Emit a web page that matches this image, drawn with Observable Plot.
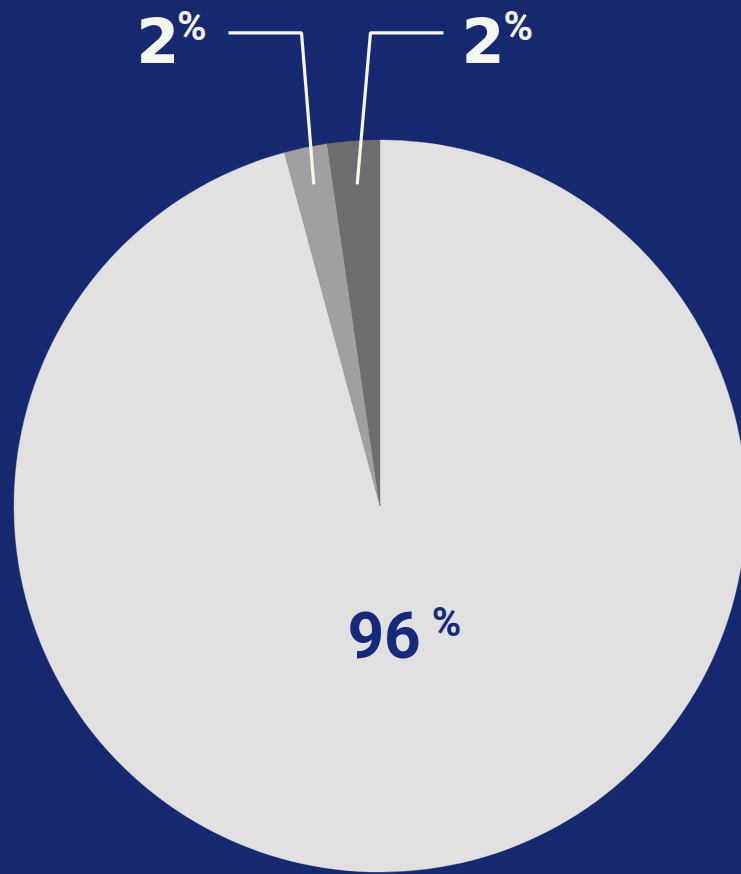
<!DOCTYPE html>
<html>
<head>
<meta charset="utf-8">
<script src="https://cdn.jsdelivr.net/npm/d3@7"></script>
<script src="https://cdn.jsdelivr.net/npm/@observablehq/plot@0.6"></script>
<style>
  html, body { margin: 0; padding: 0; background: #16286f; overflow: hidden; }
  #chart svg { display: block; }
</style>
</head>
<body>
<div id="chart"></div>
<script>
// ---- data ----
const categories = ["Largest share", "Second share", "Third share"];
const shares = [95.8, 1.9, 2.3];           // percent
const sliceColors = ["#e1e1e1", "#a0a0a0", "#6e6e6e"];
const labelSides = ["inside", "left", "right"];

// ---- layout (not data) ----
const W = 741, H = 874;
const background = "#16286f";
const labelWhite = "#f4f6ef";
const labelNavy = "#17297a";
const leaderStartY = 0.88;       // leaders start at this height, in pie radii
const leaderElbowY = 1.294;      // leader elbow height, in pie radii
const leaderElbowShift = {left: -0.0336, right: 0.0363};  // elbow x relative to leader start
const leaderRun = {left: -0.1995, right: 0.1995};         // horizontal run length
const insideLabelRadius = 0.36;
const digitFont = "'DejaVu Sans', sans-serif";
const pctFontFamily = "Roboto, sans-serif";
const mainDigitFont = "Roboto, sans-serif";

const rows = categories.map((c, i) => ({
  category: c, share: shares[i], color: sliceColors[i], side: labelSides[i],
  label: String(Math.round(shares[i]))
}));
const arcs = d3.pie().sort(null).value(d => d.share)(rows);
const polar = (a, r) => [r * Math.sin(a), r * Math.cos(a)];

// leader lines for the small slices
const leaders = [];
const leaderEnds = [];
arcs.forEach(a => {
  if (a.data.side === "inside") return;
  const mid = (a.startAngle + a.endAngle) / 2;
  const y0 = leaderStartY, x0 = y0 * Math.tan(mid);
  const x1 = x0 + leaderElbowShift[a.data.side];
  const x2 = x1 + leaderRun[a.data.side];
  leaders.push({category: a.data.category, x: x0, y: y0});
  leaders.push({category: a.data.category, x: x1, y: leaderElbowY});
  leaders.push({category: a.data.category, x: x2, y: leaderElbowY});
  leaderEnds.push({...a.data, x: x2, y: leaderElbowY});
});
const insideLabels = arcs.filter(a => a.data.side === "inside").map(a => {
  const [x, y] = polar((a.startAngle + a.endAngle) / 2, insideLabelRadius);
  return {...a.data, x, y};
});

function wedges(index, scales) {
  const cx = scales.x(0), cy = scales.y(0), R = scales.x(1) - scales.x(0);
  const arc = d3.arc().innerRadius(0).outerRadius(R);
  const g = d3.create("svg:g").attr("transform", `translate(${cx},${cy})`);
  g.selectAll("path").data(arcs).join("path")
    .attr("d", arc).attr("fill", d => d.data.color)
    .attr("stroke", d => d.data.color).attr("stroke-width", 0.4);
  return g.node();
}

const bigFont = 62, pctFont = 40, mainFont = 64, mainPctFont = 40;
const textBase = {fontWeight: "bold", lineAnchor: "bottom", x: "x", y: "y"};
const left = leaderEnds.filter(d => d.side === "left");
const right = leaderEnds.filter(d => d.side === "right");

const chart = Plot.plot({
  width: W, height: H,
  margin: 0,
  style: {background, overflow: "visible"},
  x: {domain: [-1, 1], range: [14, 746], axis: null},
  y: {domain: [-1, 1], range: [872, 140], axis: null},
  marks: [
    wedges,
    Plot.line(leaders, {x: "x", y: "y", z: "category", stroke: labelWhite, strokeWidth: 3.2, strokeLinejoin: "miter", strokeLinecap: "butt"}),
    // left labels
    Plot.text(left, {...textBase, fontFamily: digitFont, text: "label", fill: labelWhite, fontSize: bigFont, textAnchor: "end", dx: -49, dy: 30.5}),
    Plot.text(left, {...textBase, fontFamily: pctFontFamily, text: () => "%", fill: labelWhite, fontSize: pctFont, textAnchor: "end", dx: -22, dy: 7.5}),
    // right labels
    Plot.text(right, {...textBase, fontFamily: digitFont, text: "label", fill: labelWhite, fontSize: bigFont, textAnchor: "start", dx: 18, dy: 30.5}),
    Plot.text(right, {...textBase, fontFamily: pctFontFamily, text: () => "%", fill: labelWhite, fontSize: pctFont, textAnchor: "start", dx: 60, dy: 7.5}),
    // inside label
    Plot.text(insideLabels, {...textBase, fontFamily: mainDigitFont, text: "label", fill: labelNavy, fontSize: mainFont, textAnchor: "end", dx: 23, dy: 20.4}),
    Plot.text(insideLabels, {...textBase, fontFamily: pctFontFamily, text: () => "%", fill: labelNavy, fontSize: mainPctFont, textAnchor: "start", dx: 34, dy: -1.6})
  ]
});
document.getElementById("chart").append(chart);
</script>
</body>
</html>
